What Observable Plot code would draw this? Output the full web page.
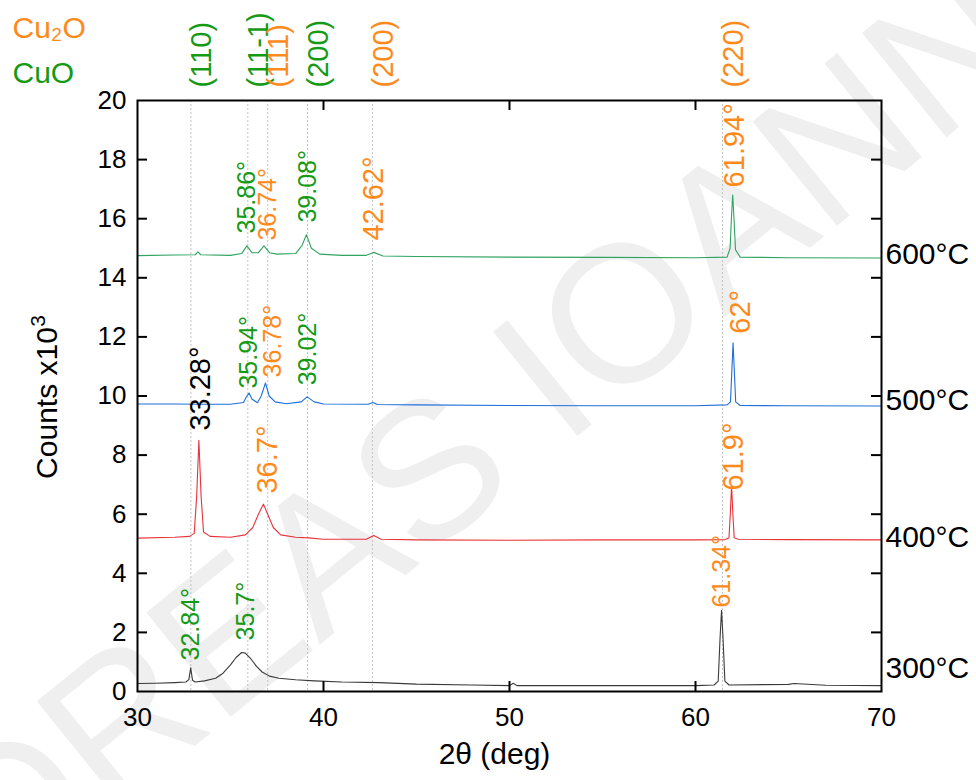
<!DOCTYPE html>
<html><head><meta charset="utf-8">
<script src="https://cdn.jsdelivr.net/npm/d3@7"></script>
<script src="https://cdn.jsdelivr.net/npm/@observablehq/plot@0.6"></script>
<style>body{margin:0;background:#fff}#chart{width:976px;height:780px}</style>
</head><body><div id="chart"></div>
<script>
const xTicks = [30, 40, 50, 60, 70];
const yTicks = [0, 2, 4, 6, 8, 10, 12, 14, 16, 18, 20];

const x300 = [30,31,32,32.6,32.76,32.86,32.96,33.1,33.6,34.2,34.6,35.0,35.3,35.6,35.8,36.1,36.4,36.7,37.1,37.6,38.5,39.5,41,43,45,48,50,50.2,50.4,55,60,61.0,61.22,61.32,61.4,61.48,61.58,61.8,65,65.3,67,70];
const y300 = [0.27,0.28,0.3,0.32,0.4,0.8,0.38,0.32,0.36,0.45,0.62,0.9,1.15,1.32,1.3,1.1,0.85,0.66,0.52,0.45,0.4,0.36,0.32,0.3,0.25,0.22,0.2,0.28,0.2,0.2,0.2,0.22,0.35,1.8,2.75,1.8,0.35,0.22,0.24,0.27,0.21,0.2];

const x400 = [30,32,32.8,33.05,33.18,33.3,33.42,33.55,33.9,35,35.8,36.2,36.5,36.77,37.0,37.3,37.7,38.5,39.2,40,42.3,42.7,43.1,45,50,55,60,61.6,61.8,61.87,61.94,62.01,62.08,62.3,65,70];
const y400 = [5.19,5.22,5.25,5.35,6.6,8.5,6.6,5.4,5.25,5.22,5.3,5.55,6.0,6.34,6.0,5.55,5.3,5.22,5.2,5.15,5.15,5.28,5.15,5.13,5.12,5.13,5.13,5.14,5.2,6.0,6.98,6.0,5.2,5.15,5.14,5.13];

const x500 = [30,32,33.5,35,35.7,35.88,36.0,36.15,36.45,36.65,36.88,37.08,37.4,38,38.8,39.12,39.5,40,42.4,42.65,42.9,45,50,55,60,61.7,61.88,61.95,62.02,62.09,62.16,62.4,65,70];
const y500 = [9.73,9.73,9.72,9.72,9.78,10.0,10.1,9.9,9.77,10.0,10.44,10.0,9.8,9.74,9.8,9.97,9.8,9.73,9.72,9.78,9.71,9.7,9.68,9.67,9.67,9.7,9.8,10.8,11.8,10.8,9.8,9.68,9.67,9.66];

const x600 = [30,32,33.1,33.25,33.4,35,35.6,35.88,36.15,36.5,36.8,37.1,37.5,38.5,38.85,39.08,39.35,39.8,41,42.3,42.7,43.2,45,50,55,60,61.7,61.86,61.93,62.0,62.07,62.15,62.4,65,70];
const y600 = [14.75,14.77,14.78,14.88,14.78,14.76,14.82,15.08,14.85,14.85,15.08,14.85,14.8,14.82,15.1,15.46,15.0,14.8,14.76,14.76,14.86,14.74,14.72,14.7,14.69,14.68,14.7,15.0,16.0,16.8,16.0,14.95,14.7,14.68,14.67];

const seriesNames = ["300°C", "400°C", "500°C", "600°C"];
const seriesLabelY = [0.78, 5.21, 9.85, 14.79];

const phaseNames = ["Cu₂O", "CuO"];
const millerLabels = ["(110)", "(11-1)", "(111)", "(200)", "(200)", "(220)"];
const millerX = [32.87, 35.93, 37.0, 39.14, 42.63, 61.45];
const millerPhase = ["CuO", "CuO", "Cu2O", "CuO", "Cu2O", "Cu2O"];

const peakText  = ["35.86°","36.74°","39.08°","35.94°","36.78°","39.02°","32.84°","35.7°","61.34°"];
const peakX     = [35.91, 36.99, 39.19, 35.97, 37.26, 39.14, 32.9, 35.81, 61.45];
const peakY     = [15.5, 15.26, 15.87, 10.25, 10.63, 10.36, 1.05, 1.73, 2.84];
const peakPhase = ["CuO","Cu2O","CuO","CuO","Cu2O","CuO","CuO","CuO","Cu2O"];

const bigPeakText  = ["42.62°","61.94°","33.28°","62°","36.7°","61.9°"];
const bigPeakX     = [42.69, 62.1, 33.39, 62.45, 36.99, 62.05];
const bigPeakY     = [15.26, 17.06, 8.83, 12.11, 6.7, 6.8];
const bigPeakPhase = ["Cu2O","Cu2O","none","Cu2O","Cu2O","Cu2O"];

const watermark = ["ANDREAS IOANNOU"];
const yTitle = ["Counts x10", "3"];
const xTitle = ["2θ (deg)"];

const green = "#159a15", orange = "#ff8a1c";
const phaseColor = p => p === "CuO" ? green : p === "Cu2O" ? orange : "#000";
const FW = 976 - 137 - 95, FH = 691 - 100;

function labelMarks(texts, xs, ys, phases, size) {
  return ["CuO", "Cu2O", "none"].map(p => {
    const I = d3.range(texts.length).filter(i => phases[i] === p);
    return Plot.text(I, {x: i => xs[i], y: i => ys[i], text: i => texts[i], rotate: -90,
      textAnchor: "start", fill: phaseColor(p), fontSize: size});
  });
}
function lineMark(xs, ys, color) {
  return Plot.line(d3.range(xs.length), {x: i => xs[i], y: i => ys[i], stroke: color, strokeWidth: 1.1});
}
function millerMarks() {
  return ["CuO", "Cu2O"].map(p => {
    const I = d3.range(millerLabels.length).filter(i => millerPhase[i] === p);
    return Plot.text(I, {x: i => millerX[i], text: i => millerLabels[i], frameAnchor: "top", dy: -13,
      rotate: -90, textAnchor: "start", fill: phaseColor(p), fontSize: 29});
  });
}

const chart = Plot.plot({
  width: 976, height: 780,
  marginLeft: 137, marginRight: 95, marginTop: 100, marginBottom: 89,
  x: {domain: [30, 70]},
  y: {domain: [0, 20]},
  style: {fontFamily: "'Liberation Sans', Arial, Helvetica, sans-serif", fontSize: "25px", background: "#fff", color: "#000"},
  marks: [
    Plot.text(watermark, {text: d => d, frameAnchor: "middle", textAnchor: "middle", dx: -19, dy: 30, rotate: -39, fontSize: 195, fill: "#efefef"}),
    Plot.ruleX(millerX, {x: d => d, stroke: "#c4c4c4", strokeWidth: 1, strokeDasharray: "2,2"}),
    lineMark(x300, y300, "#3a3a3a"),
    lineMark(x400, y400, "#e8333b"),
    lineMark(x500, y500, "#1f6fdc"),
    lineMark(x600, y600, "#2fa35f"),
    Plot.frame({stroke: "#000", strokeWidth: 2}),
    Plot.tickY(yTicks.slice(1, -1), {y: d => d, insetRight: FW - 10, stroke: "#000", strokeWidth: 2}),
    Plot.tickY(yTicks.slice(1, -1), {y: d => d, insetLeft: FW - 10, stroke: "#000", strokeWidth: 2}),
    Plot.tickX(xTicks.slice(1, -1), {x: d => d, insetTop: FH - 10, stroke: "#000", strokeWidth: 2}),
    Plot.tickX(xTicks.slice(1, -1), {x: d => d, insetBottom: FH - 10, stroke: "#000", strokeWidth: 2}),
    Plot.axisY({ticks: yTicks, tickSize: 0, tickPadding: 11, fontSize: 26, label: null}),
    Plot.axisX({ticks: xTicks, tickSize: 0, tickPadding: 16, fontSize: 26, label: null}),
    Plot.text([yTitle[0]], {text: d => d, frameAnchor: "left", textAnchor: "middle", dx: -90, dy: 7, rotate: -90, fontSize: 30}),
    Plot.text([yTitle[1]], {text: d => d, frameAnchor: "left", textAnchor: "middle", dx: -99, dy: -75, rotate: -90, fontSize: 21}),
    Plot.text(xTitle, {text: d => d, frameAnchor: "bottom", textAnchor: "middle", dx: -15, dy: 72, fontSize: 30}),
    Plot.text(seriesNames, {text: d => d, y: (d, i) => seriesLabelY[i], frameAnchor: "right", dx: 4, textAnchor: "start", fontSize: 30}),
    Plot.text([phaseNames[0]], {text: d => d, frameAnchor: "top-left", dx: -125, dy: -84, textAnchor: "start", fill: orange, fontSize: 30}),
    Plot.text([phaseNames[1]], {text: d => d, frameAnchor: "top-left", dx: -125, dy: -39, textAnchor: "start", fill: green, fontSize: 30}),
    ...millerMarks(),
    ...labelMarks(peakText, peakX, peakY, peakPhase, 25),
    ...labelMarks(bigPeakText, bigPeakX, bigPeakY, bigPeakPhase, 29)
  ]
});
document.getElementById("chart").appendChild(chart);
</script>
</body></html>
